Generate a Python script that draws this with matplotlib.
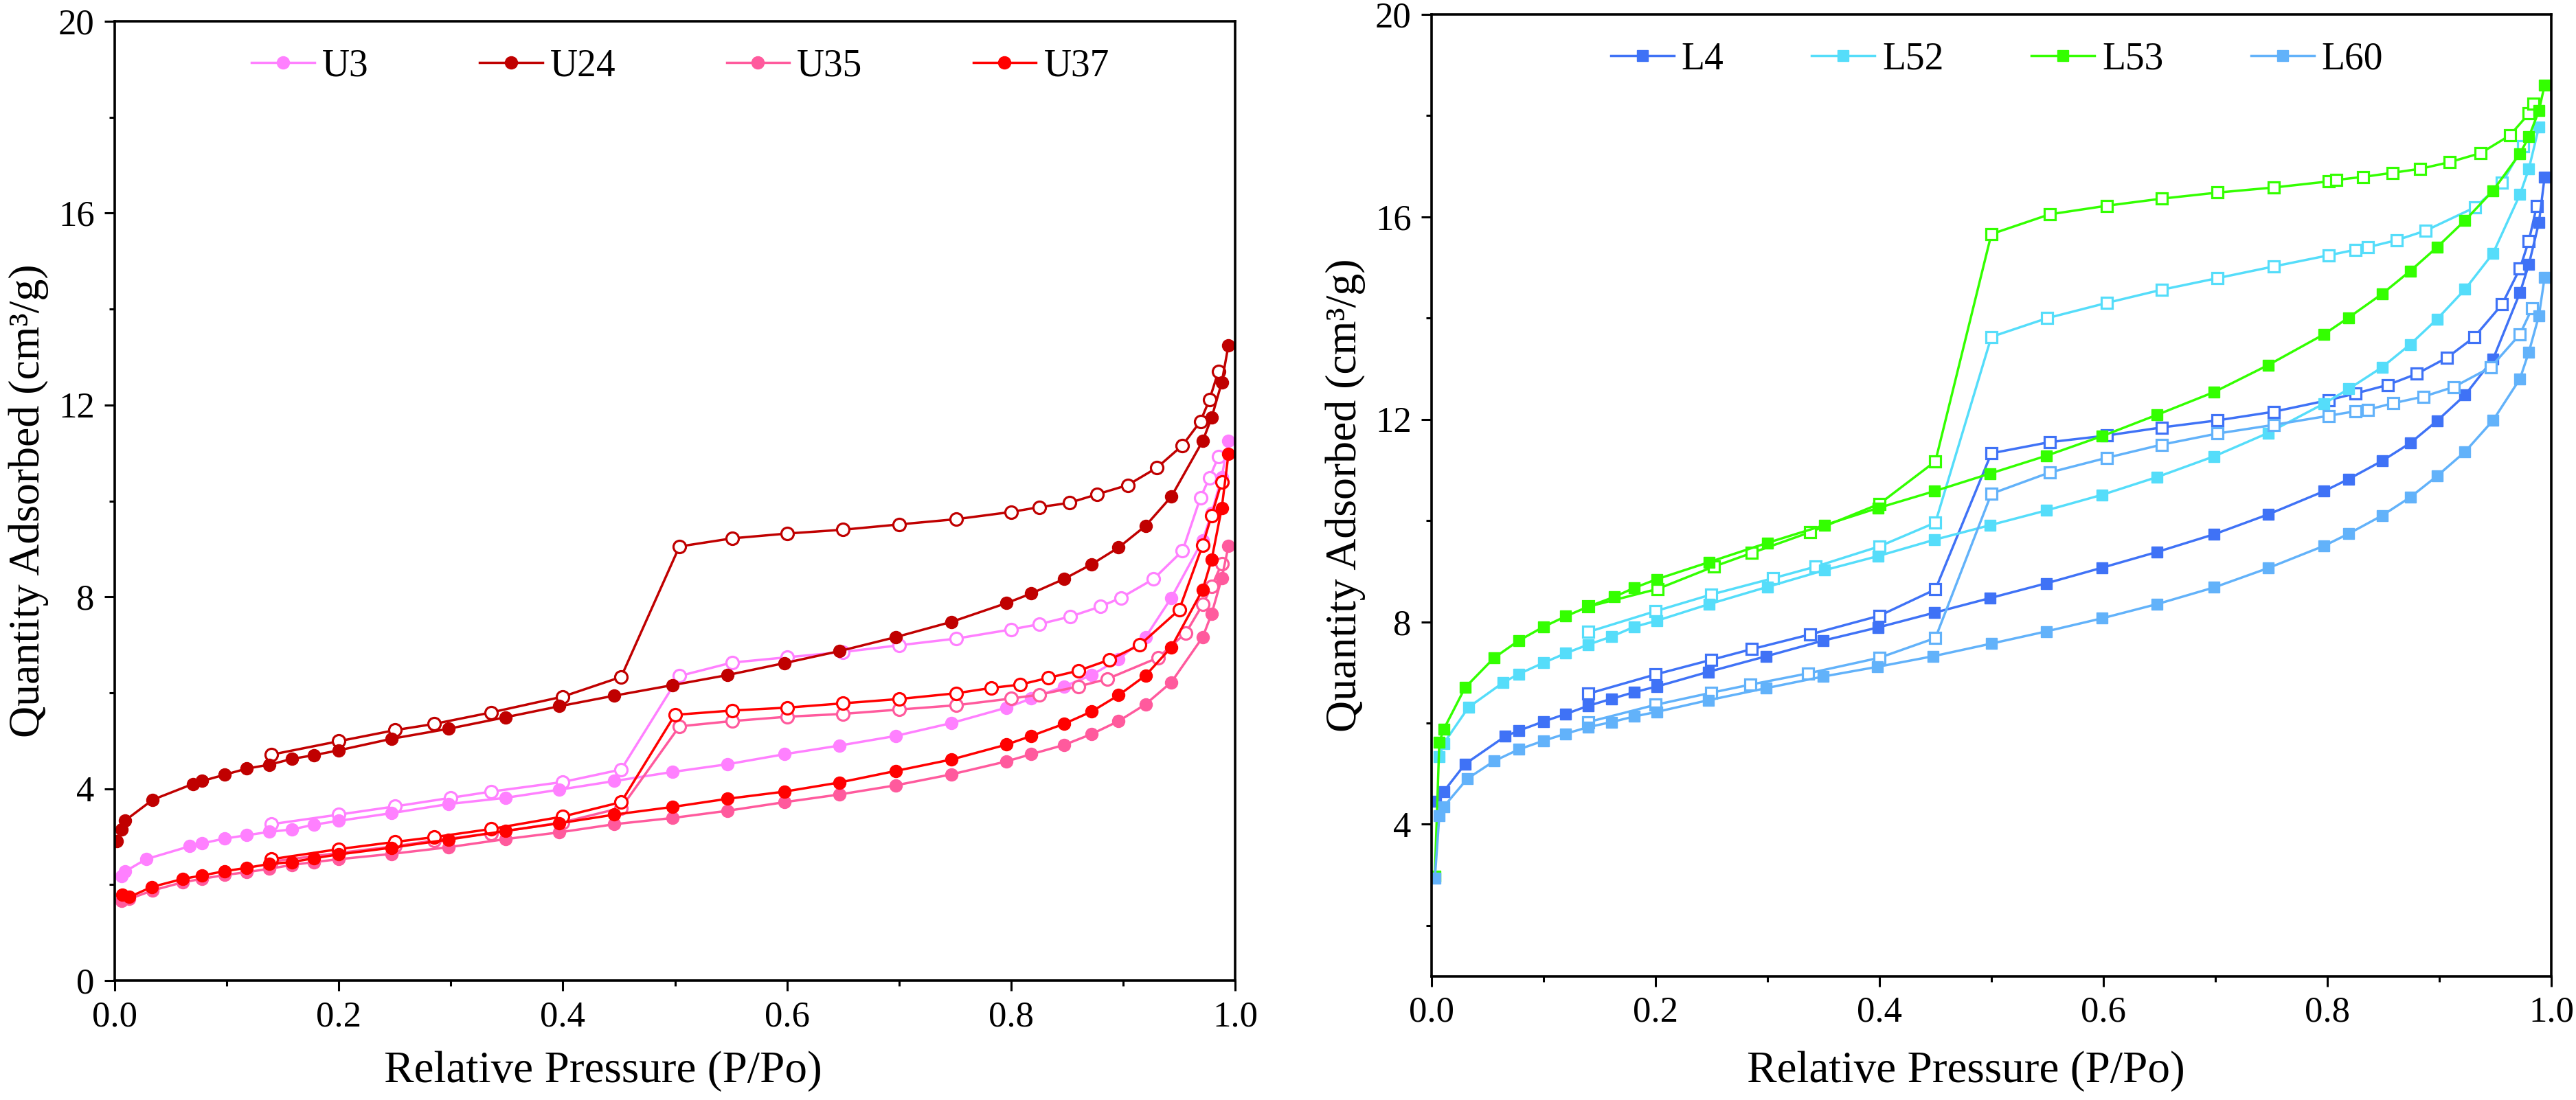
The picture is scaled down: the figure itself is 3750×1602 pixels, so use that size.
import matplotlib
matplotlib.use("Agg")
import matplotlib.pyplot as plt
from matplotlib.ticker import MultipleLocator

plt.rcParams["font.family"] = ["Liberation Serif", "DejaVu Serif"]

# ---- left panel data (U samples) ----
U24_ads_x = [0.002, 0.006, 0.009, 0.034, 0.070, 0.078, 0.098, 0.118, 0.138, 0.158, 0.178, 0.200, 0.247, 0.298, 0.349, 0.397, 0.446,
             0.498, 0.547, 0.598, 0.647, 0.697, 0.747, 0.796, 0.818, 0.847, 0.872, 0.896, 0.920, 0.943, 0.971, 0.979, 0.988, 0.994]
U24_ads_y = [2.90, 3.15, 3.33, 3.77, 4.10, 4.16, 4.29, 4.42, 4.50, 4.62, 4.70, 4.80, 5.04, 5.25, 5.49, 5.72, 5.94,
             6.16, 6.37, 6.62, 6.87, 7.16, 7.48, 7.87, 8.07, 8.37, 8.68, 9.03, 9.48, 10.09, 11.25, 11.74, 12.47, 13.25]
U24_des_x = [0.14, 0.20, 0.25, 0.285, 0.336, 0.40, 0.452, 0.504, 0.551, 0.60, 0.65, 0.70, 0.751, 0.80, 0.825, 0.852,
             0.877, 0.904, 0.930, 0.953, 0.969, 0.977, 0.985]
U24_des_y = [4.71, 4.99, 5.22, 5.35, 5.59, 5.92, 6.33, 9.05, 9.22, 9.32, 9.40, 9.51, 9.62, 9.77, 9.87, 9.96,
             10.14, 10.33, 10.69, 11.16, 11.66, 12.11, 12.70]

U3_ads_x = [0.006, 0.009, 0.028, 0.067, 0.078, 0.098, 0.118, 0.138, 0.158, 0.178, 0.200, 0.247, 0.298, 0.349, 0.397, 0.446,
            0.498, 0.547, 0.598, 0.647, 0.697, 0.747, 0.796, 0.818, 0.847, 0.872, 0.896, 0.920, 0.943, 0.971, 0.979, 0.988, 0.994]
U3_ads_y = [2.17, 2.27, 2.53, 2.80, 2.86, 2.96, 3.03, 3.10, 3.15, 3.25, 3.33, 3.49, 3.68, 3.81, 3.98, 4.16,
            4.35, 4.51, 4.72, 4.90, 5.10, 5.37, 5.69, 5.88, 6.13, 6.37, 6.70, 7.16, 7.98, 9.18, 9.75, 10.50, 11.26]
U3_des_x = [0.14, 0.20, 0.25, 0.30, 0.336, 0.40, 0.452, 0.504, 0.551, 0.60, 0.65, 0.70, 0.751, 0.80, 0.825, 0.853,
            0.88, 0.898, 0.927, 0.953, 0.969, 0.977, 0.985]
U3_des_y = [3.26, 3.46, 3.63, 3.81, 3.94, 4.14, 4.40, 6.35, 6.63, 6.74, 6.85, 6.99, 7.13, 7.32, 7.43, 7.59,
            7.80, 7.98, 8.37, 8.96, 10.07, 10.48, 10.92]

U35_ads_x = [0.006, 0.013, 0.034, 0.061, 0.078, 0.098, 0.118, 0.138, 0.158, 0.178, 0.200, 0.247, 0.298, 0.349, 0.397, 0.446,
             0.498, 0.547, 0.598, 0.647, 0.697, 0.747, 0.796, 0.818, 0.847, 0.872, 0.896, 0.920, 0.943, 0.971, 0.979, 0.988, 0.994]
U35_ads_y = [1.66, 1.70, 1.88, 2.05, 2.12, 2.20, 2.26, 2.33, 2.41, 2.47, 2.53, 2.64, 2.78, 2.95, 3.09, 3.26,
             3.39, 3.54, 3.72, 3.88, 4.07, 4.30, 4.57, 4.72, 4.91, 5.14, 5.41, 5.76, 6.22, 7.16, 7.65, 8.39, 9.06]
U35_des_x = [0.14, 0.20, 0.25, 0.285, 0.336, 0.40, 0.452, 0.504, 0.551, 0.60, 0.65, 0.70, 0.751, 0.80, 0.825, 0.86,
             0.886, 0.931, 0.956, 0.971, 0.979, 0.988]
U35_des_y = [2.48, 2.66, 2.80, 2.92, 3.07, 3.30, 3.60, 5.30, 5.41, 5.50, 5.56, 5.65, 5.74, 5.88, 5.96, 6.13,
             6.29, 6.73, 7.25, 7.84, 8.22, 8.69]

U37_ads_x = [0.007, 0.013, 0.033, 0.061, 0.078, 0.098, 0.118, 0.138, 0.158, 0.178, 0.200, 0.247, 0.298, 0.349, 0.397, 0.446,
             0.498, 0.547, 0.598, 0.647, 0.697, 0.747, 0.796, 0.818, 0.847, 0.872, 0.896, 0.920, 0.943, 0.971, 0.979, 0.988, 0.994]
U37_ads_y = [1.79, 1.74, 1.95, 2.12, 2.19, 2.28, 2.35, 2.43, 2.47, 2.55, 2.63, 2.77, 2.94, 3.12, 3.28, 3.46,
             3.62, 3.79, 3.94, 4.13, 4.37, 4.61, 4.92, 5.10, 5.35, 5.61, 5.95, 6.36, 6.95, 8.15, 8.78, 9.85, 10.98]
U37_des_x = [0.14, 0.20, 0.25, 0.285, 0.336, 0.40, 0.452, 0.50, 0.551, 0.60, 0.65, 0.70, 0.751, 0.782, 0.808, 0.833,
             0.860, 0.888, 0.915, 0.950, 0.971, 0.979, 0.988]
U37_des_y = [2.53, 2.74, 2.89, 2.99, 3.16, 3.42, 3.72, 5.54, 5.63, 5.69, 5.78, 5.87, 5.99, 6.10, 6.17, 6.31,
             6.46, 6.69, 7.00, 7.73, 9.08, 9.70, 10.40]

# ---- right panel data (L samples) ----
L4_ads_x = [0.004, 0.011, 0.030, 0.066, 0.078, 0.100, 0.120, 0.140, 0.161, 0.181, 0.201, 0.247, 0.299, 0.350, 0.399, 0.449,
            0.499, 0.549, 0.599, 0.648, 0.699, 0.747, 0.797, 0.819, 0.849, 0.874, 0.898, 0.923, 0.948, 0.972, 0.980, 0.989, 0.994]
L4_ads_y = [4.45, 4.65, 5.19, 5.74, 5.85, 6.03, 6.18, 6.34, 6.48, 6.61, 6.72, 7.01, 7.32, 7.63, 7.89, 8.18,
            8.47, 8.76, 9.07, 9.38, 9.73, 10.12, 10.58, 10.82, 11.18, 11.53, 11.97, 12.48, 13.19, 14.50, 15.06, 15.89, 16.78]
L4_des_x = [0.14, 0.20, 0.25, 0.286, 0.338, 0.40, 0.45, 0.50, 0.552, 0.603, 0.652, 0.702, 0.752, 0.801, 0.825, 0.854,
            0.880, 0.907, 0.931, 0.956, 0.972, 0.980, 0.987]
L4_des_y = [6.58, 6.96, 7.25, 7.46, 7.75, 8.12, 8.64, 11.33, 11.55, 11.68, 11.84, 11.98, 12.15, 12.38, 12.51, 12.68,
            12.90, 13.22, 13.62, 14.27, 14.98, 15.53, 16.21]

L52_ads_x = [0.007, 0.011, 0.033, 0.064, 0.078, 0.100, 0.120, 0.140, 0.161, 0.181, 0.201, 0.248, 0.300, 0.351, 0.399, 0.449,
             0.499, 0.549, 0.599, 0.648, 0.699, 0.747, 0.797, 0.819, 0.849, 0.874, 0.898, 0.923, 0.948, 0.972, 0.980, 0.989]
L52_ads_y = [5.34, 5.60, 6.31, 6.80, 6.97, 7.19, 7.38, 7.55, 7.71, 7.90, 8.02, 8.35, 8.69, 9.02, 9.30, 9.62,
             9.91, 10.20, 10.51, 10.86, 11.27, 11.73, 12.31, 12.60, 13.03, 13.48, 13.98, 14.57, 15.28, 16.44, 16.95, 17.78]
L52_des_x = [0.14, 0.20, 0.25, 0.305, 0.343, 0.40, 0.45, 0.50, 0.55, 0.603, 0.652, 0.702, 0.752, 0.801, 0.825, 0.836,
             0.862, 0.888, 0.932, 0.956, 0.975]
L52_des_y = [7.80, 8.21, 8.54, 8.86, 9.09, 9.49, 9.96, 13.63, 14.00, 14.30, 14.56, 14.79, 15.02, 15.24, 15.35, 15.40,
             15.54, 15.73, 16.19, 16.67, 17.40]

L53_ads_x = [0.003, 0.007, 0.011, 0.030, 0.056, 0.078, 0.100, 0.120, 0.140, 0.163, 0.181, 0.201, 0.248, 0.300, 0.351, 0.399, 0.449,
             0.499, 0.549, 0.599, 0.648, 0.699, 0.747, 0.797, 0.819, 0.849, 0.874, 0.898, 0.923, 0.948, 0.972, 0.980, 0.989, 0.994]
L53_ads_y = [2.98, 5.62, 5.88, 6.70, 7.29, 7.63, 7.90, 8.11, 8.30, 8.49, 8.67, 8.84, 9.18, 9.56, 9.91, 10.25, 10.58,
             10.93, 11.28, 11.67, 12.09, 12.54, 13.07, 13.68, 14.01, 14.48, 14.93, 15.40, 15.93, 16.52, 17.25, 17.58, 18.10, 18.60]
L53_des_x = [0.14, 0.202, 0.252, 0.286, 0.338, 0.40, 0.45, 0.50, 0.552, 0.603, 0.652, 0.702, 0.752, 0.801, 0.808, 0.832,
             0.858, 0.883, 0.909, 0.937, 0.963, 0.980, 0.984]
L53_des_y = [8.30, 8.65, 9.09, 9.36, 9.77, 10.33, 11.17, 15.66, 16.05, 16.22, 16.36, 16.48, 16.58, 16.70, 16.73, 16.79,
             16.87, 16.95, 17.08, 17.26, 17.61, 18.04, 18.23]

L60_ads_x = [0.003, 0.007, 0.011, 0.032, 0.056, 0.078, 0.100, 0.120, 0.140, 0.161, 0.181, 0.201, 0.247, 0.299, 0.350, 0.398, 0.448,
             0.500, 0.549, 0.599, 0.648, 0.699, 0.747, 0.797, 0.819, 0.849, 0.874, 0.898, 0.923, 0.948, 0.972, 0.980, 0.989, 0.994]
L60_ads_y = [2.93, 4.17, 4.35, 4.90, 5.25, 5.48, 5.65, 5.79, 5.92, 6.02, 6.13, 6.22, 6.45, 6.69, 6.92, 7.11, 7.32,
             7.57, 7.81, 8.07, 8.35, 8.68, 9.06, 9.50, 9.74, 10.10, 10.46, 10.88, 11.36, 11.98, 12.80, 13.33, 14.05, 14.80]
L60_des_x = [0.14, 0.20, 0.25, 0.285, 0.336, 0.40, 0.45, 0.50, 0.552, 0.603, 0.652, 0.702, 0.752, 0.801, 0.825, 0.836,
             0.859, 0.886, 0.913, 0.946, 0.972, 0.983]
L60_des_y = [6.02, 6.36, 6.60, 6.76, 6.98, 7.29, 7.68, 10.53, 10.95, 11.24, 11.50, 11.72, 11.89, 12.07, 12.16, 12.19,
             12.32, 12.45, 12.64, 13.03, 13.68, 14.20]

left_series = [
    ("U3", "#FF80FF", U3_ads_x, U3_ads_y, U3_des_x, U3_des_y),
    ("U24", "#C00000", U24_ads_x, U24_ads_y, U24_des_x, U24_des_y),
    ("U35", "#FF5A9D", U35_ads_x, U35_ads_y, U35_des_x, U35_des_y),
    ("U37", "#FF0000", U37_ads_x, U37_ads_y, U37_des_x, U37_des_y),
]
right_series = [
    ("L4", "#3F72F6", L4_ads_x, L4_ads_y, L4_des_x, L4_des_y),
    ("L52", "#55DDFA", L52_ads_x, L52_ads_y, L52_des_x, L52_des_y),
    ("L53", "#33FF00", L53_ads_x, L53_ads_y, L53_des_x, L53_des_y),
    ("L60", "#62B2FA", L60_ads_x, L60_ads_y, L60_des_x, L60_des_y),
]

fig = plt.figure(figsize=(37.5, 16.02), dpi=100)
ax1 = fig.add_axes([0.0445, 0.1086, 0.435, 0.872])
ax2 = fig.add_axes([0.5557, 0.1126, 0.4347, 0.8743])


def draw_panel(ax, series, marker, ms, ylim, col_spacing, xlabel_x, xlabel_y):
    for name, color, ax_x, ax_y, de_x, de_y in series:
        ax.plot(de_x, de_y, color=color, lw=2.5, marker=marker, ms=ms,
                mfc="white", mec=color, mew=2.3)
        ax.plot(ax_x, ax_y, color=color, lw=2.5, marker=marker, ms=ms,
                mfc=color, mec=color, mew=1.0, label=name)
    ax.set_xlim(0, 1.0)
    ax.set_ylim(*ylim)
    ax.xaxis.set_major_locator(MultipleLocator(0.2))
    ax.xaxis.set_minor_locator(MultipleLocator(0.1))
    ax.yaxis.set_major_locator(MultipleLocator(4))
    ax.yaxis.set_minor_locator(MultipleLocator(2))
    ax.tick_params(which="both", direction="out", width=2.2, top=False, right=False,
                   labelsize=38, pad=10)
    ax.tick_params(which="major", length=11)
    ax.tick_params(which="minor", length=6)
    ax.xaxis.set_major_formatter(plt.FuncFormatter(lambda v, p: f"{v:.1f}"))
    for s in ax.spines.values():
        s.set_linewidth(2.6)
    ax.set_xlabel("Relative Pressure (P/Po)", fontsize=47)
    ax.xaxis.set_label_coords(xlabel_x, xlabel_y)
    ax.set_ylabel("Quantity Adsorbed (cm³/g)", fontsize=46, labelpad=10)
    ax.legend(loc="center", bbox_to_anchor=(0.505, 0.953), ncol=4, frameon=False,
              fontsize=40, handlelength=1.65, handletextpad=0.2,
              columnspacing=col_spacing, borderaxespad=0)


draw_panel(ax1, left_series, "o", 13, (0, 20), 2.9, 0.436, -0.073)
draw_panel(ax2, right_series, "s", 12, (1, 20), 2.3, 0.477, -0.0775)

fig.savefig("out.png", dpi=100)
